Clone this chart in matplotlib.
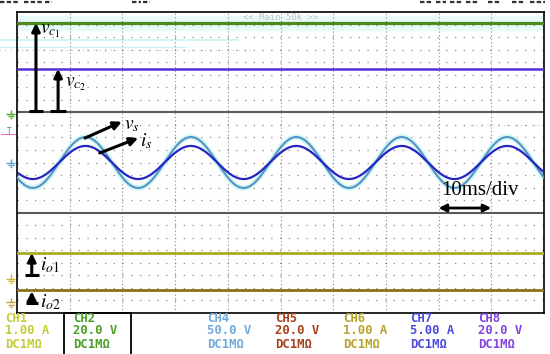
import numpy as np
import matplotlib.pyplot as plt
from matplotlib.patches import Rectangle

plt.rcParams['mathtext.fontset'] = 'stix'

# screen: 10 x divisions (10 ms/div), three stacked grids of 8 y divisions
n_div_x = 10
n_div_y = 24
sub_div = 8

# dc traces, level in divisions from the bottom of the screen
vc1_level = 23.13
vc2_level = 19.46
io1_level = 4.78
io2_level = 1.83

# ac traces, 50 Hz -> one period = 2 div
ac_center = 12.0
vs_amp = 2.03
is_amp = 1.32
ac_period = 2.0
ac_zero = 0.80      # upward zero crossing (div)

# channel readout at the bottom
ch_names = ['CH1', 'CH2', 'CH4', 'CH5', 'CH6', 'CH7', 'CH8']
ch_scales = ['1.00 A', '20.0 V', '50.0 V', '20.0 V', '1.00 A', '5.00 A', '20.0 V']
ch_coupling = ['DC1MΩ'] * 7
ch_colors = ['#c4cc38', '#4f9e2a', '#72aadc', '#a8401c', '#b8a42c', '#4c4ce0', '#8444e0']
ch_x_px = [5, 73, 207, 275, 343, 410, 478]

W, H = 550, 354
fig = plt.figure(figsize=(W / 100, H / 100), dpi=100)
fig.patch.set_facecolor('white')

# plot area in pixels: x 17..544, y 12..313
ax = fig.add_axes([17 / W, (H - 313) / H, 527 / W, 301 / H])
ax.set_xlim(0, n_div_x)
ax.set_ylim(0, n_div_y)
ax.set_xticks([])
ax.set_yticks([])
for s in ax.spines.values():
    s.set_color('black')
    s.set_linewidth(1.2)

# faint ghost traces of the scope screen
ax.axhspan(vc1_level - 0.55, vc1_level + 0.55, color='#e8f9f9', zorder=0)
ax.plot([-1.5, 4.2], [21.8, 21.8], color='#c8f4f4', lw=1.2, clip_on=False, zorder=0)
ax.plot([-1.5, 3.2], [21.2, 21.2], color='#c8f4f4', lw=1.0, clip_on=False, zorder=0)
ax.plot([-1.5, 4.5], [20.97, 20.97], color='#f4c4e0', lw=1.0, ls=(0, (1, 3)), clip_on=False, zorder=0)
ax.plot([8.6, 10], [15.0, 15.0], color='#f4c4e0', lw=1.0, ls=(0, (1, 3)), zorder=0)

# grid
for k in range(1, n_div_x):
    ax.axvline(k, color='#8a8a8a', lw=0.8, ls=(0, (1, 2.2)), zorder=1)
for k in range(1, n_div_y):
    if k % sub_div == 0:
        ax.axhline(k, color='#5a5a5a', lw=1.5, zorder=1)
    else:
        ax.axhline(k, color='#8a8a8a', lw=0.9, ls=(0, (1, 6)), zorder=1)

# dc traces
ax.axhline(vc1_level, color='#4c8a1e', lw=2.3, zorder=3)
ax.axhline(vc2_level, color='#5530d4', lw=1.8, zorder=3)
ax.axhline(io1_level, color='#aaaa22', lw=2.0, zorder=3)
ax.axhline(io2_level, color='#8c7214', lw=2.0, zorder=3)

# ac traces
t = np.linspace(0, n_div_x, 1201)
vs = ac_center + vs_amp * np.sin(2 * np.pi * (t - ac_zero) / ac_period)
i_s = ac_center + is_amp * np.sin(2 * np.pi * (t - ac_zero) / ac_period)
ax.plot(t, vs, color='#d2f6f6', lw=4, zorder=2, solid_capstyle='butt')
ax.plot(t, vs, color='#5494c4', lw=1.5, zorder=3)
ax.plot(t, i_s, color='#2626c4', lw=1.6, zorder=4)

# annotations
arrow = dict(arrowstyle='-|>', color='black', lw=2.2, mutation_scale=12,
             shrinkA=0, shrinkB=0)


def level_arrow(x, y0, y1, half):
    ax.annotate('', xy=(x, y1), xytext=(x, y0), arrowprops=arrow, zorder=6)
    ax.plot([x - half, x + half], [y0, y0], color='black', lw=2.2, zorder=6,
            solid_capstyle='butt')


level_arrow(0.36, 16.08, vc1_level, 0.13)
level_arrow(0.78, 16.08, vc2_level, 0.15)
level_arrow(0.28, 3.03, io1_level, 0.13)
level_arrow(0.28, 0.8, io2_level - 0.1, 0.11)

ax.text(0.44, 22.5, r'$v_{c_1}$', fontsize=14, va='center', ha='left', zorder=7)
ax.text(0.92, 18.3, r'$v_{c_2}$', fontsize=14, va='center', ha='left', zorder=7)
ax.text(0.44, 3.8, r'$i_{o1}$', fontsize=14, va='center', ha='left', zorder=7)
ax.text(0.44, 0.9, r'$i_{o2}$', fontsize=14, va='center', ha='left', zorder=7)

ax.annotate('', xy=(1.99, 15.25), xytext=(1.29, 13.95), arrowprops=arrow, zorder=6)
ax.annotate('', xy=(2.30, 13.95), xytext=(1.57, 12.76), arrowprops=arrow, zorder=6)
ax.text(2.03, 15.0, r'$v_s$', fontsize=14, va='center', ha='left', zorder=7)
ax.text(2.33, 13.7, r'$i_s$', fontsize=14, va='center', ha='left', zorder=7)

ax.text(8.78, 9.8, '10ms/div', family='Liberation Serif', fontsize=15,
        va='center', ha='center', zorder=7)
ax.annotate('', xy=(9.0, 8.37), xytext=(8.0, 8.37),
            arrowprops=dict(arrowstyle='<|-|>', color='black', lw=2.0,
                            mutation_scale=11, shrinkA=0, shrinkB=0), zorder=6)


# channel ground markers on the left edge
def ground(x, y, color):
    kw = dict(color=color, lw=1.0, clip_on=False, zorder=5, solid_capstyle='butt')
    ax.plot([x, x], [y, y + 0.35], **kw)
    ax.plot([x - 0.09, x + 0.09], [y, y], **kw)
    ax.plot([x - 0.055, x + 0.055], [y - 0.18, y - 0.18], **kw)
    ax.plot([x - 0.02, x + 0.02], [y - 0.34, y - 0.34], **kw)


ground(-0.12, 15.85, '#4fa62a')
ground(-0.12, 11.95, '#5aa0d0')
ground(-0.12, 2.75, '#c8b828')
ground(-0.12, 0.85, '#c0a030')
ax.text(-0.2, 14.45, 'T', fontsize=5.5, color='#3a8ab8', va='center', ha='left',
        family='DejaVu Sans Mono', clip_on=False)
ax.plot([-0.3, -0.02], [14.25, 14.25], color='#e070b0', lw=0.8, clip_on=False)

ax.text(5.0, 23.6, '<< Main 50k >>', fontsize=6.5, color='#c4c4c4',
        family='DejaVu Sans Mono', va='center', ha='center', zorder=2)

# bottom edges of the cut-off header line
for x0, x1 in [(0, 20), (24, 42), (45, 52), (132, 141), (143, 150),
               (420, 432), (436, 446), (450, 462), (466, 478), (488, 500),
               (512, 524), (530, 545)]:
    fig.add_artist(plt.Line2D([x0 / W, x1 / W], [1 - 2 / H, 1 - 2 / H],
                              color='#333333', lw=1.6, ls=(0, (2, 1))))

# channel readout
for name, scale, coup, col, xp in zip(ch_names, ch_scales, ch_coupling, ch_colors, ch_x_px):
    for row, txt in zip([318, 331, 344], [name, scale, coup]):
        fig.text(xp / W, (H - row) / H, txt, fontsize=8.8, color=col,
                 family='DejaVu Sans Mono', weight='bold', va='center', ha='left')

fig.add_artist(Rectangle((64 / W, -5 / H), 67 / W, 46 / H, transform=fig.transFigure,
                         fill=False, ec='black', lw=1.3))

fig.savefig('out.png', dpi=100)
